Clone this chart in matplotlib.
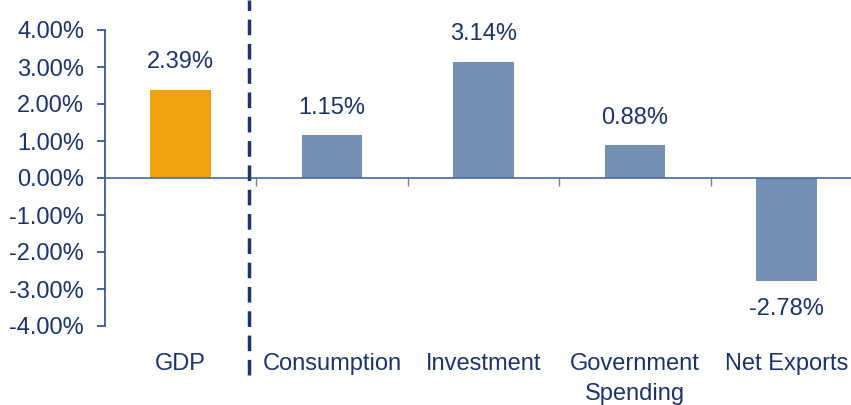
import numpy as np
import matplotlib.pyplot as plt

categories = ["GDP", "Consumption", "Investment", "Government\nSpending", "Net Exports"]
values = [2.39, 1.15, 3.14, 0.88, -2.78]
bar_colors = ["#F0A30F", "#7390B5", "#7390B5", "#7390B5", "#7390B5"]
yticks = [-4, -3, -2, -1, 0, 1, 2, 3, 4]

navy = "#1B336F"
fsize = 17
plt.rcParams['font.family'] = ['Liberation Sans', 'DejaVu Sans']

fig = plt.figure(figsize=(8.51, 4.05), dpi=100)
# axes runs a bit past the right edge, like the original
ax = fig.add_axes([105/851, 79/405, 757/851, 296/405])

x = np.arange(len(categories))
ax.bar(x, values, width=0.4, color=bar_colors, zorder=2)

ax.set_xlim(-0.5, 4.5)
ax.set_ylim(-4, 4)
ax.set_yticks(yticks)
ax.set_yticklabels(["{:.2f}%".format(v) for v in yticks])
ax.tick_params(axis='y', direction='out', length=6, width=1.2, color="#2A4A8C",
               labelcolor=navy, labelsize=fsize, pad=9)

ax.spines['top'].set_visible(False)
ax.spines['right'].set_visible(False)
ax.spines['left'].set_color("#2A4A8C")
ax.spines['left'].set_linewidth(1.2)
ax.spines['bottom'].set_position(('data', 0))
ax.spines['bottom'].set_color("#4A67A0")
ax.spines['bottom'].set_linewidth(1.2)

# ticks between categories on the zero line
ax.set_xticks(x[:-1] + 0.5)
ax.set_xticklabels([])
ax.tick_params(axis='x', direction='out', length=6, width=1, color="#6C83B0")

# value labels
for xi, v in zip(x, values):
    off = 20 if v >= 0 else -20
    ax.annotate("{:.2f}%".format(v), (xi, v), xytext=(0, off), textcoords='offset points',
                ha='center', va='center', color=navy, fontsize=fsize)

# category labels under the plot
trans = ax.get_xaxis_transform()
for xi, c in zip(x, categories):
    ax.text(xi, -0.09, c, transform=trans, ha='center', va='top', color=navy,
            fontsize=fsize, linespacing=1.5)

# dashed separator after GDP
ax.plot([0.45, 0.45], [-0.165, 1.1], transform=trans, clip_on=False,
        color=navy, lw=2.5, linestyle=(0, (4.5, 2.5)), zorder=3)

fig.savefig("out.png", dpi=100)
